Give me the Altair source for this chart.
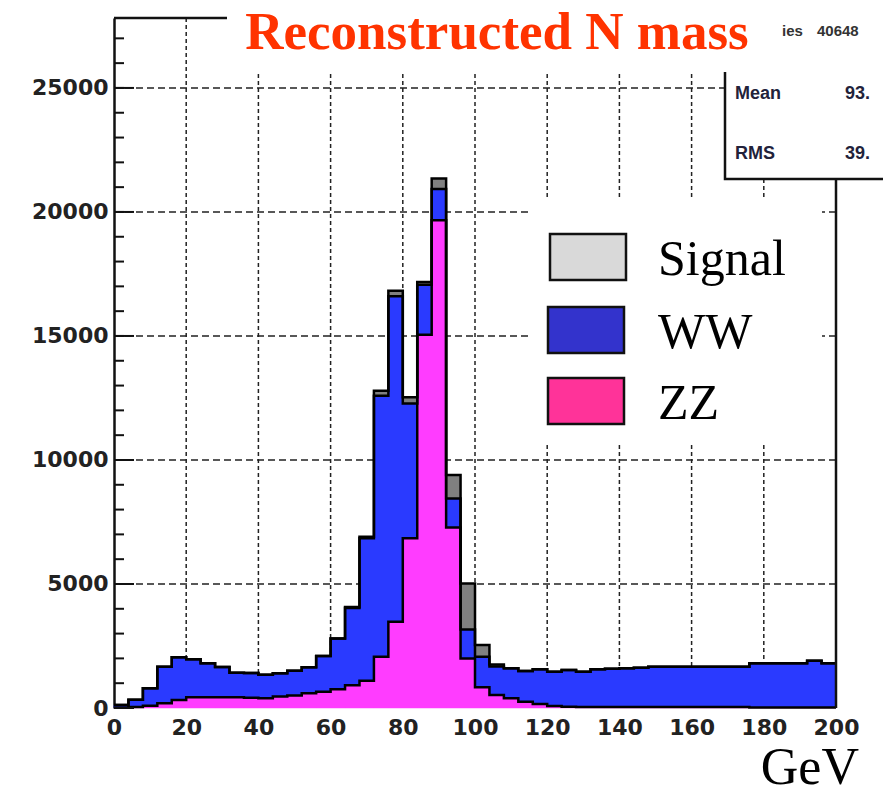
import altair as alt
import pandas as pd

# ---------------- data ----------------
bin_low = list(range(0, 200, 4))  # 50 bins of 4 GeV, 0..200 GeV

zz = [10, 40, 90, 190, 320, 430, 430, 430, 430, 410,
      390, 460, 500, 590, 660, 760, 920, 1100, 2070, 3480,
      6840, 15050, 19670, 7280, 2000, 840, 520, 390, 250, 160,
      80, 50, 40, 40, 40, 40, 40, 40, 40, 40,
      40, 40, 40, 40, 20, 20, 20, 20, 20, 20]

ww = [110, 290, 710, 1470, 1730, 1540, 1370, 1220, 990, 1000,
      950, 940, 1000, 1050, 1440, 2040, 3110, 5740, 10520, 13120,
      5440, 2010, 1260, 1170, 1170, 1230, 1150, 1210, 1240, 1400,
      1380, 1480, 1420, 1520, 1540, 1560, 1580, 1620, 1620, 1620,
      1620, 1620, 1620, 1620, 1780, 1780, 1780, 1780, 1890, 1780]

signal = [0, 0, 0, 0, 0, 0, 0, 0, 0, 0,
          0, 0, 0, 0, 0, 0, 40, 60, 200, 220,
          250, 120, 420, 940, 1850, 470, 80, 0, 0, 0,
          0, 0, 0, 0, 0, 0, 0, 0, 0, 0,
          0, 0, 0, 0, 0, 0, 0, 0, 0, 0]

series_names = ["ZZ", "WW", "Signal"]
series_fill = ["#ff3cff", "#2a3aff", "#808080"]
legend_fill = ["#d9d9d9", "#3333cc", "#ff3399"]   # Signal, WW, ZZ
legend_labels = ["Signal", "WW", "ZZ"]

x_labels = [0, 20, 40, 60, 80, 100, 120, 140, 160, 180, 200]
x_grid = [20, 40, 60, 80, 100, 120, 140, 160, 180]
y_labels = [0, 5000, 10000, 15000, 20000, 25000]
y_grid = [5000, 10000, 15000, 20000, 25000]
y_minor = list(range(0, 28000, 1000))

title_text = "Reconstructed N mass"
stats_rows = [("Mean", "93."), ("RMS", "39.")]
entries_text = ("ies", "40648")
axis_unit = "GeV"

# ---------------- build tables ----------------
x_max = 200
y_max = 27820
W, H = 722, 690

xscale = alt.Scale(domain=[0, x_max], nice=False, zero=False)
yscale = alt.Scale(domain=[0, y_max], nice=False, zero=True)

x_axis = alt.Axis(values=x_labels, title=None, grid=False, tickSize=0,
                  domain=False, labelFont="DejaVu Sans", labelFontWeight="bold",
                  labelFontSize=22, labelColor="#222", labelPadding=9,
                  labelFlush=False, format="d")
y_axis = alt.Axis(values=y_labels, title=None, grid=False, tickSize=0,
                  domain=True, domainColor="#111", domainWidth=2.5,
                  labelFont="DejaVu Sans", labelFontWeight="bold",
                  labelFontSize=22, labelColor="#222", labelPadding=6,
                  labelFlush=False, format="d")

comps = [zz, ww, signal]
area_layers = []
line_rows = []
base = [0] * len(bin_low)
for idx, (name, vals, col) in enumerate(zip(series_names, comps, series_fill)):
    top = [b + v for b, v in zip(base, vals)]
    xs = bin_low + [x_max]
    tops = top + [top[-1]]
    bases = base + [base[-1]]
    df = pd.DataFrame({"x": xs, "top": tops, "base": bases})
    for x, t in zip(xs, tops):
        line_rows.append({"level": name, "x": x, "y": t})
    if idx == 0:
        xe = alt.X("x:Q", scale=xscale, axis=x_axis)
        ye = alt.Y("top:Q", scale=yscale, stack=None, axis=y_axis)
    else:
        xe = alt.X("x:Q", scale=xscale)
        ye = alt.Y("top:Q", scale=yscale, stack=None)
    area_layers.append(
        alt.Chart(df).mark_area(interpolate="step-after", color=col, opacity=1,
                                stroke=col, strokeWidth=0.5).encode(
            x=xe, y=ye, y2=alt.Y2("base:Q"))
    )
    base = top
lines_df = pd.DataFrame(line_rows)

one = pd.DataFrame({"a": [0]})

# grid
vgrid = alt.Chart(pd.DataFrame({"g": x_grid})).mark_rule(
    color="#222", strokeWidth=1.5, strokeDash=[4, 3]
).encode(x=alt.X("g:Q", scale=xscale), y=alt.value(0), y2=alt.value(H))

hgrid = alt.Chart(pd.DataFrame({"g": y_grid})).mark_rule(
    color="#222", strokeWidth=1.5, strokeDash=[7, 4]
).encode(y=alt.Y("g:Q", scale=yscale), x=alt.value(0), x2=alt.value(W))

outlines = alt.Chart(lines_df).mark_line(
    interpolate="step-after", color="#000", strokeWidth=2.5
).encode(
    x=alt.X("x:Q", scale=xscale),
    y=alt.Y("y:Q", scale=yscale),
    detail="level:N",
)

# inward ticks on y axis
minor_ticks = alt.Chart(pd.DataFrame({"t": y_minor})).mark_rule(
    color="#111", strokeWidth=2
).encode(y=alt.Y("t:Q", scale=yscale), x=alt.value(0), x2=alt.value(10))
major_ticks = alt.Chart(pd.DataFrame({"t": y_labels})).mark_rule(
    color="#111", strokeWidth=2
).encode(y=alt.Y("t:Q", scale=yscale), x=alt.value(0), x2=alt.value(20))

top_frame = alt.Chart(one).mark_rule(color="#111", strokeWidth=2.5).encode(
    x=alt.value(0), x2=alt.value(113), y=alt.value(0))
right_frame = alt.Chart(one).mark_rule(color="#111", strokeWidth=2.5).encode(
    x=alt.value(W), y=alt.value(161), y2=alt.value(H))

# stats box
stats_box = alt.Chart(one).mark_rect(fill="white", stroke="#111", strokeWidth=2.5).encode(
    x=alt.value(611), x2=alt.value(820), y=alt.value(-60), y2=alt.value(161))
title_box = alt.Chart(one).mark_rect(fill="white").encode(
    x=alt.value(113), x2=alt.value(800), y=alt.value(-30), y2=alt.value(54))

title = alt.Chart(one).mark_text(
    text=title_text, font="Liberation Serif", fontWeight="bold", fontSize=53,
    color="#ff3300", align="center", baseline="alphabetic"
).encode(x=alt.value(383), y=alt.value(31))

stat_layers = []
stat_layers.append(alt.Chart(one).mark_text(
    text=entries_text[0], font="Liberation Sans", fontWeight="bold", fontSize=15,
    color="#333", align="left", baseline="alphabetic").encode(x=alt.value(668), y=alt.value(18)))
stat_layers.append(alt.Chart(one).mark_text(
    text=entries_text[1], font="Liberation Sans", fontWeight="bold", fontSize=15,
    color="#333", align="left", baseline="alphabetic").encode(x=alt.value(703), y=alt.value(18)))
for k, (lab, val) in enumerate(stats_rows):
    yy = 81 + 60 * k
    stat_layers.append(alt.Chart(one).mark_text(
        text=lab, font="Liberation Sans", fontWeight="bold", fontSize=18,
        color="#22223a", align="left", baseline="alphabetic").encode(
        x=alt.value(621), y=alt.value(yy)))
    stat_layers.append(alt.Chart(one).mark_text(
        text=val, font="Liberation Sans", fontWeight="bold", fontSize=18,
        color="#22223a", align="left", baseline="alphabetic").encode(
        x=alt.value(731), y=alt.value(yy)))

# legend
legend_box = alt.Chart(one).mark_rect(fill="white").encode(
    x=alt.value(416), x2=alt.value(708), y=alt.value(182), y2=alt.value(427))
legend_layers = [legend_box]
sw_y = [216, 289, 360]
sw_x = [436, 434, 434]
for k in range(3):
    legend_layers.append(alt.Chart(one).mark_rect(
        fill=legend_fill[k], stroke="#111", strokeWidth=2.5).encode(
        x=alt.value(sw_x[k]), x2=alt.value(sw_x[k] + 76),
        y=alt.value(sw_y[k]), y2=alt.value(sw_y[k] + 46)))
    legend_layers.append(alt.Chart(one).mark_text(
        text=legend_labels[k], font="Liberation Serif", fontSize=50, color="#000",
        align="left", baseline="alphabetic").encode(
        x=alt.value(544), y=alt.value(sw_y[k] + 41)))

unit = alt.Chart(one).mark_text(
    text=axis_unit, font="Liberation Serif", fontSize=52, color="#000",
    align="right", baseline="alphabetic").encode(x=alt.value(745), y=alt.value(766))

chart = alt.layer(
    vgrid, hgrid, *area_layers, outlines, minor_ticks, major_ticks, top_frame, right_frame,
    stats_box, title_box, title, *stat_layers, *legend_layers, unit
).properties(
    width=W, height=H,
    autosize=alt.AutoSizeParams(type="none"),
    padding={"left": 114, "top": 18, "right": 47, "bottom": 87},
    background="white",
).configure_view(stroke=None)

chart.save("out.html", embed_options={"renderer": "svg", "actions": False})
